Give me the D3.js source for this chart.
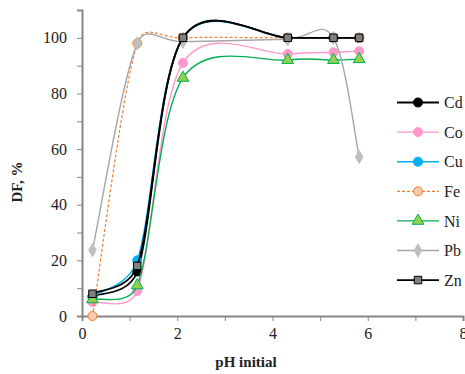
<!DOCTYPE html>
<html>
<head>
<meta charset="utf-8">
<script src="https://cdn.jsdelivr.net/npm/d3@7"></script>
<style>
  body { margin: 0; background: #fff; }
  svg text { font-family: "Liberation Serif", "Times New Roman", serif; fill: #222; }
</style>
</head>
<body>
<div id="chart"></div>
<script>
// pH initial values
const phValues = [0.22, 1.16, 2.12, 4.32, 5.28, 5.82];

const cd = [7, 16, 100, 100, 100, 100];
const co = [5, 9, 91, 94.2, 94.8, 95.2];
const cu = [7, 20, 100, 100, 100, 100];
const fe = [0, 98, 100, 100, 100, 100];
const ni = [6, 11, 85.6, 92, 92, 92.3];
const pb = [23.7, 98, 98.6, 99.5, 100, 57.2];
const zn = [8, 18, 100, 100, 100, 100];

const xTicks = [0, 2, 4, 6, 8];
const yTicks = [0, 20, 40, 60, 80, 100];

const series = [
  {name: "Cd", values: cd, line: "#000", fill: "#000", stroke: "#000", shape: "circle", w: 1.8},
  {name: "Co", values: co, line: "#ff99cc", fill: "#ff99cc", stroke: "#ff99cc", shape: "circle", w: 1.4},
  {name: "Cu", values: cu, line: "#00b0f0", fill: "#00b0f0", stroke: "#00b0f0", shape: "circle", w: 1.4},
  {name: "Fe", values: fe, line: "#ed7d31", fill: "#f8cbad", stroke: "#ed7d31", shape: "circle", w: 1.2, dash: "3,2"},
  {name: "Ni", values: ni, line: "#00b050", fill: "#92d050", stroke: "#00b050", shape: "triangle", w: 1.4},
  {name: "Pb", values: pb, line: "#a6a6a6", fill: "#bfbfbf", stroke: "#bfbfbf", shape: "diamond", w: 1.4},
  {name: "Zn", values: zn, line: "#000", fill: "#808080", stroke: "#000", shape: "square", w: 1.8}
];

const width = 465, height = 374;
const svg = d3.select("#chart").append("svg")
  .attr("width", width)
  .attr("height", height);

const x = d3.scaleLinear().domain([0, 8]).range([82, 463]);
const y = d3.scaleLinear().domain([0, 110]).range([316, 10]);

const axisColor = "#868686";

// x axis
const gx = svg.append("g")
  .attr("transform", `translate(0,${y(0)})`)
  .call(d3.axisBottom(x).tickValues(d3.range(0, 9, 1)).tickSize(5)
    .tickFormat(d => xTicks.includes(d) ? d : ""));
gx.select(".domain").attr("stroke", axisColor).attr("stroke-width", 2);
gx.selectAll(".tick line").attr("stroke", axisColor).attr("stroke-width", 1);
gx.selectAll(".tick text").attr("font-size", 16).attr("dy", "0.95em").attr("fill", "#222");

// y axis
const gy = svg.append("g")
  .attr("transform", `translate(${x(0)},0)`)
  .call(d3.axisLeft(y).tickValues(d3.range(0, 111, 10)).tickSize(5).tickPadding(10)
    .tickFormat(d => yTicks.includes(d) ? d : ""));
gy.select(".domain").attr("stroke", axisColor).attr("stroke-width", 2);
gy.selectAll(".tick line").attr("stroke", axisColor).attr("stroke-width", 1);
gy.selectAll(".tick text").attr("font-size", 16).attr("fill", "#222");

// axis titles
svg.append("text")
  .attr("x", 246).attr("y", 367)
  .attr("text-anchor", "middle")
  .attr("font-size", 15).attr("font-weight", "bold")
  .text("pH initial");

svg.append("text")
  .attr("transform", "translate(22,182) rotate(-90)")
  .attr("text-anchor", "middle")
  .attr("font-size", 15).attr("font-weight", "bold")
  .text("DF, %");

const symbolType = {
  circle: d3.symbolCircle,
  triangle: d3.symbolTriangle,
  diamond: d3.symbolDiamond,
  square: d3.symbolSquare
};
const symbolSize = {circle: 64, triangle: 60, diamond: 50, square: 56};

// spreadsheet-style smoothed line: catmull-rom tangents, each control arm
// kept to at most half of its segment so short steps don't overshoot
function smoothPath(pts) {
  const p = d3.path();
  p.moveTo(pts[0][0], pts[0][1]);
  const arm = (a, b, lim) => {
    let dx = (b[0] - a[0]) / 6, dy = (b[1] - a[1]) / 6;
    const len = Math.hypot(dx, dy);
    if (len > lim) { dx *= lim / len; dy *= lim / len; }
    return [dx, dy];
  };
  for (let i = 0; i < pts.length - 1; i++) {
    const p0 = pts[i - 1] || pts[i], p1 = pts[i], p2 = pts[i + 1], p3 = pts[i + 2] || pts[i + 1];
    const lim = Math.hypot(p2[0] - p1[0], p2[1] - p1[1]) / 2;
    const t1 = arm(p0, p2, lim), t2 = arm(p1, p3, lim);
    p.bezierCurveTo(p1[0] + t1[0], p1[1] + t1[1], p2[0] - t2[0], p2[1] - t2[1], p2[0], p2[1]);
  }
  return p.toString();
}

series.forEach(s => {
  const pts = phValues.map((ph, i) => [ph, s.values[i]]);
  svg.append("path")
    .attr("d", smoothPath(pts.map(d => [x(d[0]), y(d[1])])))
    .attr("fill", "none")
    .attr("stroke", s.line)
    .attr("stroke-width", s.w)
    .attr("stroke-dasharray", s.dash || null);

  svg.selectAll(null)
    .data(pts)
    .enter()
    .append("path")
    .attr("transform", d => `translate(${x(d[0])},${y(d[1])})`)
    .attr("d", d3.symbol().type(symbolType[s.shape]).size(symbolSize[s.shape]))
    .attr("fill", s.fill)
    .attr("stroke", s.stroke)
    .attr("stroke-width", 1);
});

// legend
const legend = svg.append("g");
series.forEach((s, i) => {
  const ly = 102.5 + i * 29.6;
  legend.append("line")
    .attr("x1", 397).attr("x2", 439)
    .attr("y1", ly).attr("y2", ly)
    .attr("stroke", s.line)
    .attr("stroke-width", s.w)
    .attr("stroke-dasharray", s.dash || null);
  legend.append("path")
    .attr("transform", `translate(418,${ly})`)
    .attr("d", d3.symbol().type(symbolType[s.shape]).size(symbolSize[s.shape]))
    .attr("fill", s.fill)
    .attr("stroke", s.stroke)
    .attr("stroke-width", 1);
  legend.append("text")
    .attr("x", 444).attr("y", ly)
    .attr("dy", "0.35em")
    .attr("font-size", 16)
    .text(s.name);
});
</script>
</body>
</html>
